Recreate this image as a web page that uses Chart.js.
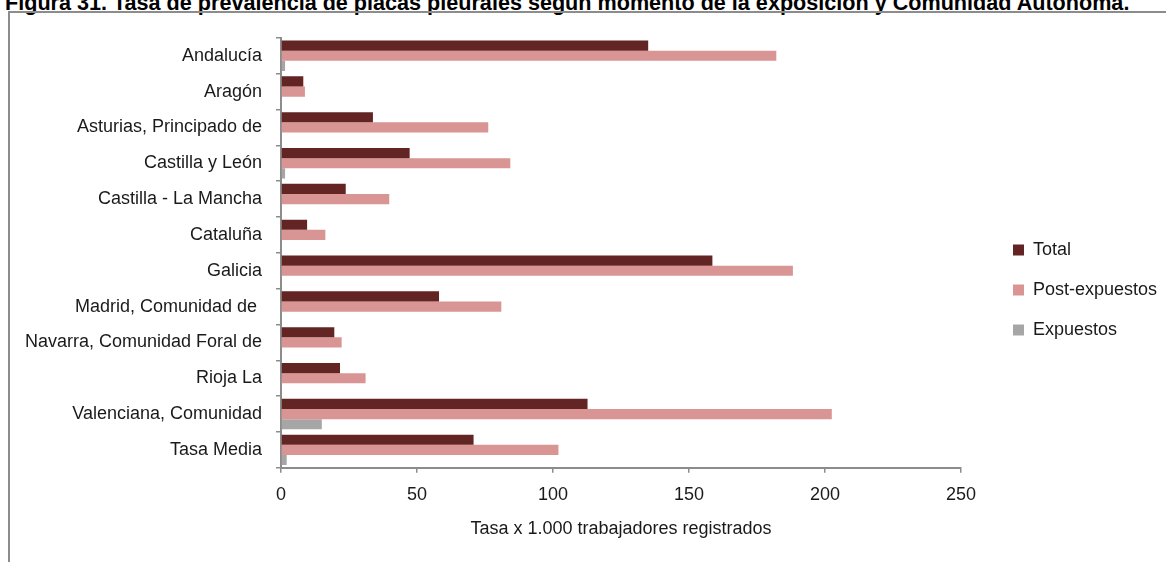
<!DOCTYPE html>
<html>
<head>
<meta charset="utf-8">
<script src="https://cdn.jsdelivr.net/npm/chart.js@4.4.1/dist/chart.umd.min.js"></script>
<style>
  html, body { margin: 0; padding: 0; background: #fff; width: 1166px; height: 562px; overflow: hidden; }
  #fig-title {
    position: absolute; left: 5px; top: -8px; white-space: nowrap;
    font: bold 21.6px/21px "Liberation Sans", Arial, sans-serif; color: #000;
  }
  #frame {
    position: absolute; left: 8px; top: 11px; width: 1200px; height: 600px;
    border-left: 2px solid #8c8c8c; border-top: 2px solid #8c8c8c;
  }
  #wrap { position: absolute; left: 10px; top: 13px; width: 1156px; height: 549px; }
</style>
</head>
<body>
<div id="fig-title">Figura 31. Tasa de prevalencia de placas pleurales según momento de la exposición y Comunidad Autónoma.</div>
<div id="frame"></div>
<div id="wrap"><canvas id="prevalencia-chart"></canvas></div>
<script>
let comunidades = [
    "Andalucía", "Aragón", "Asturias, Principado de", "Castilla y León",
    "Castilla - La Mancha", "Cataluña", "Galicia", "Madrid, Comunidad de ",
    "Navarra, Comunidad Foral de", "Rioja La", "Valenciana, Comunidad", "Tasa Media"
]
let total = [135.0, 8.2, 33.8, 47.3, 23.8, 9.6, 158.6, 58.1, 19.6, 21.7, 112.7, 70.8]
let post_expuestos = [182.1, 8.8, 76.2, 84.3, 39.8, 16.3, 188.2, 81.0, 22.3, 31.1, 202.5, 102.0]
let expuestos = [1.5, 0, 0, 1.5, 0, 0, 0, 0, 0, 0, 15.0, 2.1]
let x_ticks = [0, 50, 100, 150, 200, 250]

let colors = {
    total: "#632523",
    post: "#d99594",
    expuestos: "#a6a6a6",
    axis: "#8c8c8c",
    text: "#1a1a1a"
}

let narrow = '"Liberation Sans Narrow", "Arial Narrow", "Liberation Sans", sans-serif'

// legend sits a bit away from the plot, like the original spreadsheet chart
let legendGap = {
    id: 'legendGap',
    afterInit(chart) {
        let lg = chart.legend;
        let fit = lg.fit;
        lg.fit = function () {
            fit.call(this);
            this.width = 205;
        };
    },
    afterLayout(chart) {
        chart.legend.left += 30;
        chart.legend.right += 30;
    }
}

let data = {
    labels: comunidades,
    datasets: [
        { label: 'Total', data: total, backgroundColor: colors.total },
        { label: 'Post-expuestos', data: post_expuestos, backgroundColor: colors.post },
        { label: 'Expuestos', data: expuestos, backgroundColor: colors.expuestos }
    ]
}

let options = {
    indexAxis: 'y',
    responsive: true,
    maintainAspectRatio: false,
    animation: false,
    datasets: {
        bar: { categoryPercentage: 0.85, barPercentage: 1.0, borderWidth: 0 }
    },
    layout: {
        padding: { top: 23, bottom: 18, left: 0, right: 0 }
    },
    plugins: {
        legend: {
            position: 'right',
            labels: {
                boxWidth: 11,
                boxHeight: 11,
                padding: 22,
                color: colors.text,
                font: { family: narrow, size: 18 }
            }
        },
        tooltip: { enabled: false }
    },
    scales: {
        x: {
            min: 0,
            max: 250,
            afterBuildTicks: scale => { scale.ticks = x_ticks.map(v => ({ value: v })); },
            grid: { drawOnChartArea: false, color: colors.axis, tickLength: 5, lineWidth: 1.5 },
            border: { color: colors.axis, width: 2 },
            ticks: { padding: 11, color: colors.text, font: { family: narrow, size: 18 } },
            title: {
                display: true,
                text: 'Tasa x 1.000 trabajadores registrados',
                color: colors.text,
                font: { family: narrow, size: 18 },
                padding: { top: 2, bottom: 4 }
            }
        },
        y: {
            afterFit: scale => { scale.width = 271; },
            grid: { drawOnChartArea: false, color: colors.axis, tickLength: 5, lineWidth: 1.5 },
            border: { color: colors.axis, width: 2 },
            ticks: { padding: 14, color: colors.text, font: { family: narrow, size: 18 } }
        }
    }
}

let ctx = document.getElementById('prevalencia-chart').getContext('2d');
window.prevalenciaChart = new Chart(ctx, {
    type: 'bar',
    data: data,
    options: options,
    plugins: [legendGap]
});
</script>
</body>
</html>
